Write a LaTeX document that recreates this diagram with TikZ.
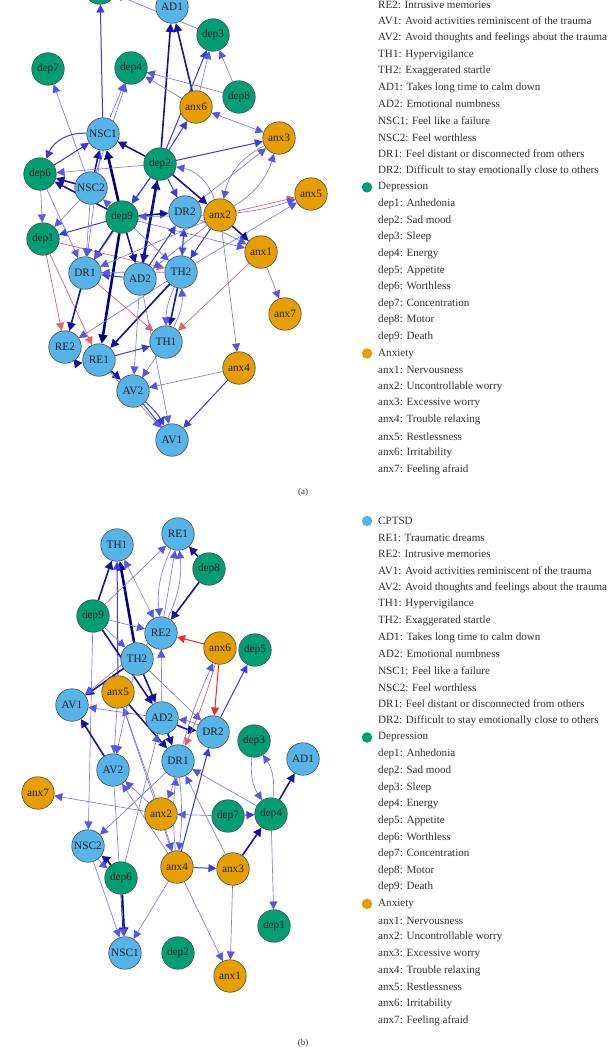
\documentclass[tikz,border=0pt]{standalone}
\usepackage{fontspec}
\setmainfont{Liberation Serif}
\usetikzlibrary{arrows.meta,backgrounds}
\definecolor{cpt}{RGB}{86,180,233}
\definecolor{depc}{RGB}{0,158,115}
\definecolor{anxc}{RGB}{230,159,0}
\definecolor{ewk}{RGB}{122,122,238}
\definecolor{ewkt}{RGB}{85,85,235}
\definecolor{emd}{RGB}{58,58,226}
\definecolor{est}{RGB}{20,20,158}
\definecolor{evs}{RGB}{0,0,128}
\definecolor{erd}{RGB}{226,100,100}
\definecolor{erdm}{RGB}{240,40,40}
\definecolor{legtxt}{RGB}{50,50,50}
\newcommand{\ndfont}{\fontsize{11.3}{12}\selectfont}
\newcommand{\lgfont}{\fontsize{11.1}{13}\selectfont}
\begin{document}
\begin{tikzpicture}[x=1pt,y=-1pt,
  nd/.style={circle, draw=black!70, line width=0.6pt, minimum size=32.5pt, inner sep=0pt, font=\ndfont, text=black!88},
  cp/.style={nd, fill=cpt}, dp/.style={nd, fill=depc}, ax/.style={nd, fill=anxc},
  wk/.style={draw=ewk, line width=0.65pt, -{Triangle[length=8pt,width=8pt,color=ewkt]}},
  wkb/.style={draw=ewk, line width=0.65pt, {Triangle[length=8pt,width=8pt,color=ewkt]}-{Triangle[length=8pt,width=8pt,color=ewkt]}},
  md/.style={draw=emd, line width=1pt, -{Triangle[length=8pt,width=8pt,color=emd]}},
  st/.style={draw=est, line width=1.6pt, -{Triangle[length=8.5pt,width=8.5pt,color=est]}},
  vs/.style={draw=evs, line width=2.6pt, -{Triangle[length=9pt,width=9pt,color=evs]}},
  rdw/.style={draw=erd, line width=0.7pt, -{Triangle[length=8pt,width=8pt,color=erd]}},
  rdm/.style={draw=erdm, line width=1pt, -{Triangle[length=8pt,width=8pt,color=erdm]}},
  lg/.style={anchor=west, font=\lgfont, text=legtxt, inner sep=0pt},
  lgdot/.style={circle, inner sep=0pt, minimum size=10.5pt},
  plab/.style={font=\fontsize{9}{10}\selectfont, text=legtxt}
]
\useasboundingbox (0,0) rectangle (609,1049);

% ---------------- panel (a) nodes ----------------
\node[dp] (dep5a) at (100,-12) {};
\node[cp] (AD1a) at (172,7) {AD1};
\node[dp] (dep3a) at (213,35) {dep3};
\node[dp] (dep7a) at (48,69) {dep7};
\node[dp] (dep4a) at (131,68) {dep4};
\node[dp] (dep8a) at (239,97) {dep8};
\node[ax] (anx6a) at (196,107) {anx6};
\node[ax] (anx3a) at (279,138) {anx3};
\node[cp] (NSC1a) at (103,134) {NSC1};
\node[dp] (dep2a) at (160,164) {dep2};
\node[dp] (dep6a) at (40,174) {dep6};
\node[cp] (NSC2a) at (91,188) {NSC2};
\node[ax] (anx5a) at (311,194) {anx5};
\node[dp] (dep9a) at (122,217) {dep9};
\node[cp] (DR2a) at (185,212) {DR2};
\node[ax] (anx2a) at (220,215) {anx2};
\node[dp] (dep1a) at (43,239) {dep1};
\node[ax] (anx1a) at (261,252) {anx1};
\node[cp] (DR1a) at (85,273) {DR1};
\node[cp] (AD2a) at (140,279) {AD2};
\node[cp] (TH2a) at (181,272) {TH2};
\node[ax] (anx7a) at (285,314) {anx7};
\node[cp] (RE2a) at (65,347) {RE2};
\node[cp] (RE1a) at (99,360) {RE1};
\node[cp] (TH1a) at (166,342) {TH1};
\node[ax] (anx4a) at (239,368) {anx4};
\node[cp] (AV2a) at (133,391) {AV2};
\node[cp] (AV1a) at (172,440) {AV1};
\node[plab] (laba) at (303,492) {(a)};

% ---------------- panel (b) nodes ----------------
\node[cp] (TH1b) at (117,545) {TH1};
\node[cp] (RE1b) at (178,534) {RE1};
\node[dp] (dep8b) at (209,569) {dep8};
\node[dp] (dep9b) at (93,616) {dep9};
\node[cp] (RE2b) at (161,633) {RE2};
\node[ax] (anx6b) at (220,648) {anx6};
\node[dp] (dep5b) at (255,650) {dep5};
\node[cp] (TH2b) at (137,659) {TH2};
\node[ax] (anx5b) at (118,692) {anx5};
\node[cp] (AV1b) at (72,705) {AV1};
\node[cp] (AD2b) at (162,718) {AD2};
\node[cp] (DR2b) at (213,732) {DR2};
\node[dp] (dep3b) at (254,741) {dep3};
\node[cp] (DR1b) at (178,761) {DR1};
\node[cp] (AV2b) at (113,770) {AV2};
\node[cp] (AD1b) at (303,759) {AD1};
\node[ax] (anx7b) at (38,793) {anx7};
\node[ax] (anx2b) at (161,814) {anx2};
\node[dp] (dep7b) at (228,816) {dep7};
\node[dp] (dep4b) at (271,814) {dep4};
\node[cp] (NSC2b) at (88,846) {NSC2};
\node[ax] (anx4b) at (177,867) {anx4};
\node[ax] (anx3b) at (233,869) {anx3};
\node[dp] (dep6b) at (121,878) {dep6};
\node[dp] (dep1b) at (274,926) {dep1};
\node[cp] (NSC1b) at (125,953) {NSC1};
\node[dp] (dep2b) at (178,953) {dep2};
\node[ax] (anx1b) at (230,976) {anx1};
\node[plab] (labb) at (303,1043) {(b)};

% ---------------- legends ----------------
\foreach \t [count=\i from 2] in {RE2: Intrusive memories,
  AV1: Avoid activities reminiscent of the trauma,
  AV2: Avoid thoughts and feelings about the trauma,
  TH1: Hypervigilance, TH2: Exaggerated startle,
  AD1: Takes long time to calm down, AD2: Emotional numbness,
  NSC1: Feel like a failure, NSC2: Feel worthless,
  DR1: Feel distant or disconnected from others,
  DR2: Difficult to stay emotionally close to others,
  Depression, dep1: Anhedonia, dep2: Sad mood, dep3: Sleep, dep4: Energy,
  dep5: Appetite, dep6: Worthless, dep7: Concentration, dep8: Motor, dep9: Death,
  Anxiety, anx1: Nervousness, anx2: Uncontrollable worry, anx3: Excessive worry,
  anx4: Trouble relaxing, anx5: Restlessness, anx6: Irritability, anx7: Feeling afraid}
  { \node[lg] (lga\i) at (378,{4.5+(\i-2)*16.62}) {\t}; }
\node[lgdot, fill=depc] (dota2) at (367,{4.5+11*16.62}) {};
\node[lgdot, fill=anxc] (dota3) at (367,{4.5+21*16.62}) {};

\foreach \t [count=\i from 0] in {CPTSD, RE1: Traumatic dreams, RE2: Intrusive memories,
  AV1: Avoid activities reminiscent of the trauma,
  AV2: Avoid thoughts and feelings about the trauma,
  TH1: Hypervigilance, TH2: Exaggerated startle,
  AD1: Takes long time to calm down, AD2: Emotional numbness,
  NSC1: Feel like a failure, NSC2: Feel worthless,
  DR1: Feel distant or disconnected from others,
  DR2: Difficult to stay emotionally close to others,
  Depression, dep1: Anhedonia, dep2: Sad mood, dep3: Sleep, dep4: Energy,
  dep5: Appetite, dep6: Worthless, dep7: Concentration, dep8: Motor, dep9: Death,
  Anxiety, anx1: Nervousness, anx2: Uncontrollable worry, anx3: Excessive worry,
  anx4: Trouble relaxing, anx5: Restlessness, anx6: Irritability, anx7: Feeling afraid}
  { \node[lg] (lgb\i) at (378,{521+\i*16.65}) {\t}; }
\node[lgdot, fill=cpt] (dotb1) at (367,521) {};
\node[lgdot, fill=depc] (dotb2) at (367,{521+13*16.65}) {};
\node[lgdot, fill=anxc] (dotb3) at (367,{521+23*16.65}) {};

% ---------------- edges ----------------
\begin{pgfonlayer}{background}
\fill[white] (0,0) rectangle (609,1049);
% panel (a)
\foreach \s/\t/\k in {
  dep2a/AD1a/st, anx6a/AD1a/st, AD2a/dep2a/vs, dep3a/dep5a/wk, NSC1a/dep5a/md,
  dep2a/dep3a/md, anx6a/dep3a/wk, dep8a/dep3a/wk, dep8a/dep4a/wk, anx6a/dep4a/wk,
  NSC1a/dep4a/wk, NSC2a/dep4a/wk, NSC2a/dep7a/wk, dep2a/anx6a/md, anx6a/anx3a/wkb,
  dep2a/anx3a/md, DR2a/anx3a/wk, anx2a/anx5a/rdw, TH2a/anx5a/wk,
  dep2a/NSC1a/st, dep2a/DR2a/md, dep2a/anx2a/st, dep9a/NSC1a/vs, NSC2a/NSC1a/st,
  dep6a/NSC1a/md, dep9a/dep6a/st, NSC2a/dep6a/st, dep2a/dep6a/wk,
  dep6a/dep1a/wk, dep9a/dep1a/md, NSC2a/dep1a/wk, dep9a/DR2a/st,
  dep1a/RE2a/rdw, dep1a/RE1a/rdw, dep1a/TH2a/rdw, DR1a/TH1a/rdw, anx1a/TH1a/rdw,
  TH2a/TH1a/st, RE1a/TH1a/md, dep9a/RE1a/vs, TH2a/RE1a/st, DR1a/RE2a/st, TH2a/RE2a/wk,
  RE1a/AV2a/st, AD2a/AV2a/wk, TH1a/AV2a/wk, anx4a/AV2a/wk, AV2a/AV1a/md,
  RE1a/AV1a/wk, AD2a/AV1a/wk, anx4a/AV1a/md, anx2a/anx4a/wk, anx1a/anx7a/wk,
  anx2a/anx1a/st, dep9a/anx1a/wk, DR2a/anx1a/wk, dep9a/DR1a/st, NSC2a/DR1a/wk,
  AD2a/DR1a/md, TH2a/DR1a/wk, dep9a/AD2a/st, dep2a/AD2a/st, anx2a/TH2a/md,
  DR2a/TH2a/wk, anx2a/AD2a/wk, TH2a/DR2a/md, AD2a/DR2a/md, dep9a/NSC2a/wk,
  dep6a/DR1a/wk, NSC1a/DR1a/wk, dep2a/DR1a/wk, anx2a/DR1a/wk, dep9a/TH2a/wk,
  dep2a/dep9a/md, anx2a/dep9a/wk}
  { \draw[\k] (\s) -- (\t); }
\draw[md] (NSC1a) to[bend right=35] (dep6a);
\draw[wk] (anx3a) to[bend right=25] (anx2a);
\draw[wk] (anx2a) to[bend right=20] (anx3a);
\draw[wk] (anx2a) to[bend right=30] (dep2a);
\draw[wk] (TH1a) to[bend right=15] (TH2a);
\draw[wk] (TH2a) to[bend right=12] (TH1a);
\draw[st] (RE2a) to[bend right=30] (RE1a);
\draw[md] (AV2a) to[bend left=10] (AV1a);
\draw[wk] (anx2a) to[bend right=6] (anx5a);
% panel (b)
\foreach \s/\t/\k in {
  dep9b/TH1b/st, TH2b/TH1b/vs, anx5b/TH1b/md, RE2b/TH1b/wkb, dep9b/RE1b/wk,
  RE2b/RE1b/wk, dep8b/RE1b/st, dep8b/RE2b/st, dep9b/RE2b/wk, dep9b/TH2b/wk,
  dep9b/AD2b/st, dep9b/NSC2b/wk, anx6b/RE2b/rdm, anx6b/DR2b/rdm, DR2b/dep5b/md,
  TH2b/AV1b/st, RE2b/AV1b/wk, TH2b/AD2b/st, TH2b/DR2b/wk, AD2b/RE2b/wk,
  AD2b/AV1b/wk, anx5b/DR1b/st, AV2b/AV1b/st, anx2b/anx5b/wk, TH2b/AV2b/wk,
  anx5b/AV2b/wk, anx2b/anx7b/wk, dep7b/anx2b/wk, dep7b/dep4b/md, dep4b/AD1b/st,
  dep4b/DR1b/wk, dep4b/dep1b/wk, anx3b/dep4b/st, anx3b/DR1b/wk, anx4b/anx3b/md,
  anx4b/DR2b/md, anx2b/anx4b/wk, anx4b/AV2b/wk, anx2b/AV2b/wk,
  anx4b/NSC1b/wk, anx4b/anx1b/wk, anx3b/anx1b/wk, NSC2b/NSC1b/wk, dep6b/NSC1b/vs,
  DR1b/NSC2b/wk, dep6b/AD2b/wk, AV2b/NSC1b/wk, AD2b/DR1b/st, anx5b/anx4b/wk}
  { \draw[\k] (\s) -- (\t); }
\draw[wk] (RE1b) to[bend right=15] (RE2b);
\draw[wk] (RE2b) to[bend right=15] (RE1b);
\draw[wk] (DR2b) to[bend right=10] (AD2b);
\draw[st] (AD2b) to[bend right=10] (DR2b);
\draw[wk] (dep3b) to[bend right=20] (dep4b);
\draw[wk] (dep4b) to[bend right=20] (dep3b);
\draw[wk] (DR1b) to[bend left=4] (anx6b);
\draw[rdw] (anx6b) to[bend left=4] (DR1b);
\draw[wk] (anx4b) to[bend left=6] (DR1b);
\draw[wk] (DR1b) to[bend left=6] (anx4b);
\draw[wk] (DR1b) to[bend left=6] (anx2b);
\draw[st] (dep6b) to[bend right=8] (NSC2b);
\draw[wk] (NSC2b) to[bend right=8] (dep6b);
\end{pgfonlayer}
\end{tikzpicture}
\end{document}
